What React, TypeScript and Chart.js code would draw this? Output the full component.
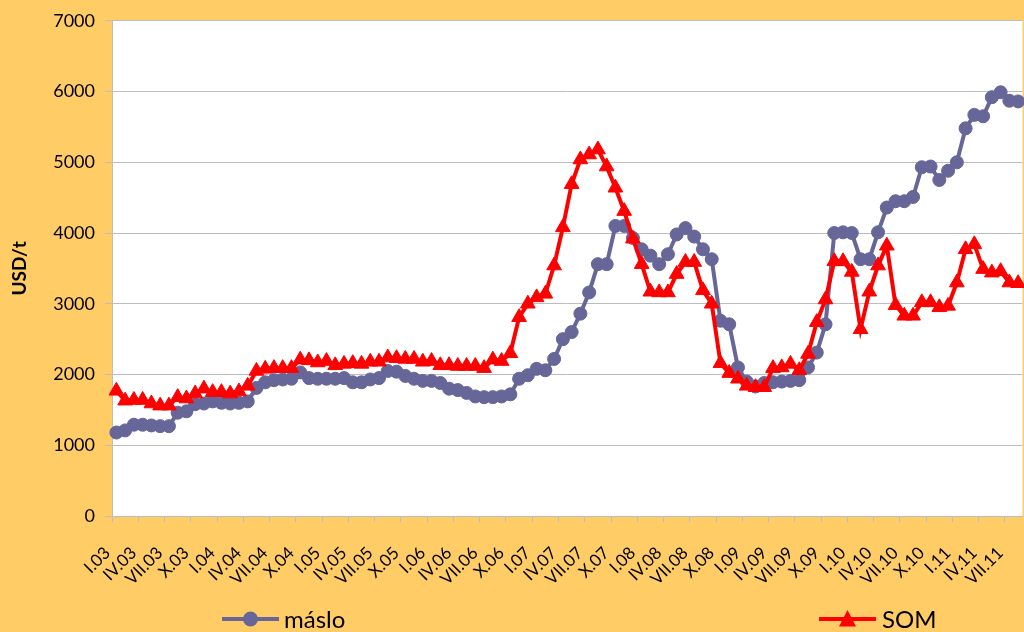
import React, { useEffect, useRef } from 'react';
import { Chart, registerables } from 'chart.js';

Chart.register(...registerables);

const romanMonths = ['I', 'II', 'III', 'IV', 'V', 'VI', 'VII', 'VIII', 'IX', 'X', 'XI', 'XII'];
const years = ['03', '04', '05', '06', '07', '08', '09', '10', '11'];
const monthCount = 104;
const categories: string[] = [];
for (let i = 0; i < monthCount; i++) {
  categories.push(romanMonths[i % 12] + '.' + years[Math.floor(i / 12)]);
}

const masloValues = [
  1180, 1210, 1290, 1290, 1280, 1270, 1270, 1460, 1480, 1580, 1590, 1620,
  1600, 1590, 1600, 1620, 1810, 1890, 1920, 1930, 1940, 2030, 1950, 1940,
  1940, 1940, 1950, 1890, 1890, 1930, 1950, 2050, 2040, 1980, 1940, 1910,
  1910, 1880, 1800, 1780, 1740, 1690, 1680, 1680, 1690, 1720, 1940, 1990,
  2080, 2060, 2220, 2500, 2600, 2860, 3160, 3560, 3560, 4100, 4100, 3930,
  3770, 3680, 3560, 3700, 3980, 4070, 3950, 3770, 3630, 2760, 2710, 2100,
  1900, 1830, 1880, 1890, 1900, 1910, 1920, 2100, 2310, 2710, 4000, 4010,
  4000, 3630, 3630, 4010, 4360, 4450, 4450, 4510, 4930, 4940, 4750, 4880,
  5000, 5480, 5670, 5650, 5920, 5990, 5870, 5860,
];

const somValues = [
  1770, 1630, 1640, 1640, 1590, 1560, 1560, 1680, 1660, 1730, 1800, 1750,
  1750, 1730, 1760, 1840, 2050, 2080, 2090, 2090, 2090, 2210, 2200, 2170,
  2190, 2130, 2150, 2160, 2150, 2180, 2180, 2240, 2230, 2220, 2220, 2180,
  2190, 2130, 2130, 2120, 2120, 2120, 2090, 2210, 2190, 2300, 2810, 3000,
  3090, 3140, 3540, 4080, 4690, 5040, 5110, 5180, 4940, 4640, 4310, 3920,
  3560, 3170, 3160, 3160, 3420, 3590, 3590, 3190, 3000, 2160, 2020, 1940,
  1840, 1820, 1820, 2090, 2100, 2150, 2060, 2290, 2740, 3060, 3600, 3600,
  3450, 2640, 3170, 3540, 3820, 2980, 2830, 2830, 3020, 3020, 2950, 2970,
  3300, 3770, 3840, 3490, 3440, 3460, 3300, 3290,
];

const seriesNames = ['máslo', 'SOM'];
const yMin = 0;
const yMax = 7000;
const yStep = 1000;

const FONT = 'Lato, "Open Sans", sans-serif';
const GRID = '#BDBDBD';
const MASLO_COLOR = '#666699';
const SOM_COLOR = '#FF0000';

const plotBackground = {
  id: 'plotBackground',
  beforeDraw(chart: any) {
    const { ctx, chartArea } = chart;
    if (!chartArea) return;
    ctx.save();
    ctx.fillStyle = '#FFFFFF';
    ctx.fillRect(chartArea.left, chartArea.top, chartArea.right - chartArea.left, chartArea.bottom - chartArea.top);
    ctx.restore();
  },
};

const excelLegend = {
  id: 'excelLegend',
  afterDraw(chart: any) {
    const ctx = chart.ctx;
    const y = 619;
    const items = [
      { ds: 0, lineX: 222, textX: 284 },
      { ds: 1, lineX: 819, textX: 882 },
    ];
    ctx.save();
    items.forEach((it) => {
      const d = chart.data.datasets[it.ds];
      ctx.strokeStyle = d.borderColor;
      ctx.lineWidth = 4;
      ctx.beginPath();
      ctx.moveTo(it.lineX, y);
      ctx.lineTo(it.lineX + 57, y);
      ctx.stroke();
      const cx = it.lineX + 28.5;
      ctx.fillStyle = d.pointBackgroundColor;
      ctx.beginPath();
      if (d.pointStyle === 'circle') {
        ctx.arc(cx, y, 7.5, 0, Math.PI * 2);
      } else {
        ctx.moveTo(cx, y - 9);
        ctx.lineTo(cx + 8.5, y + 7.5);
        ctx.lineTo(cx - 8.5, y + 7.5);
        ctx.closePath();
      }
      ctx.fill();
      ctx.fillStyle = '#000000';
      ctx.font = `24px ${FONT}`;
      ctx.textBaseline = 'alphabetic';
      ctx.textAlign = 'left';
      ctx.fillText(d.label, it.textX, y + 9);
    });
    ctx.restore();
  },
};

export default function App() {
  const ref = useRef<HTMLCanvasElement>(null);

  useEffect(() => {
    if (!ref.current) return;
    const chart = new Chart(ref.current, {
      type: 'line',
      data: {
        labels: categories,
        datasets: [
          {
            label: seriesNames[0],
            data: masloValues,
            borderColor: MASLO_COLOR,
            backgroundColor: MASLO_COLOR,
            pointBackgroundColor: MASLO_COLOR,
            pointBorderColor: MASLO_COLOR,
            pointStyle: 'circle',
            pointRadius: 6.5,
            pointBorderWidth: 1,
            borderWidth: 4,
            tension: 0,
            order: 1,
          },
          {
            label: seriesNames[1],
            data: somValues,
            borderColor: SOM_COLOR,
            backgroundColor: SOM_COLOR,
            pointBackgroundColor: SOM_COLOR,
            pointBorderColor: SOM_COLOR,
            pointStyle: 'triangle',
            pointRadius: 8.5,
            pointBorderWidth: 1,
            borderWidth: 4,
            tension: 0,
            order: 0,
          },
        ],
      },
      options: {
        responsive: false,
        animation: false,
        events: [],
        layout: { padding: { top: 19, left: 0, right: 0, bottom: 64 } },
        plugins: {
          legend: { display: false },
          tooltip: { enabled: false },
        },
        scales: {
          x: {
            type: 'category',
            offset: true,
            grid: {
              offset: true,
              drawOnChartArea: false,
              drawTicks: true,
              tickLength: 6,
              tickColor: (c: any) => (c.index % 3 === 0 ? GRID : 'rgba(0,0,0,0)'),
              color: GRID,
            },
            border: { color: GRID, width: 1 },
            ticks: {
              autoSkip: false,
              minRotation: 45,
              maxRotation: 45,
              labelOffset: -9,
              padding: 21,
              color: '#000000',
              font: { family: FONT, size: 17 },
              callback: (_v: any, i: number) => (i % 3 === 0 ? categories[i] : ''),
            },
            afterFit: (s: any) => {
              s.height = 80;
              s.paddingRight = 0;
              s.paddingLeft = 0;
            },
          },
          y: {
            min: yMin,
            max: yMax,
            ticks: {
              stepSize: yStep,
              padding: 10,
              color: '#000000',
              font: { family: FONT, size: 18 },
              callback: (v: any) => String(v),
            },
            grid: { color: GRID, tickLength: 7, tickColor: GRID, lineWidth: 1 },
            border: { color: GRID, width: 1 },
            title: {
              display: true,
              text: 'USD/t',
              color: '#000000',
              font: { family: FONT, size: 19, weight: 'bold' },
              padding: { top: 8, bottom: 0 },
            },
            afterFit: (s: any) => {
              s.width = 112;
            },
          },
        },
      },
      plugins: [plotBackground, excelLegend],
    } as any);
    return () => chart.destroy();
  }, []);

  return (
    <div
      style={{
        position: 'fixed',
        left: 0,
        top: 0,
        width: 1024,
        height: 632,
        overflow: 'hidden',
        background: '#FFCC66',
      }}
    >
      <canvas ref={ref} width={1032} height={660} style={{ display: 'block' }} />
    </div>
  );
}
